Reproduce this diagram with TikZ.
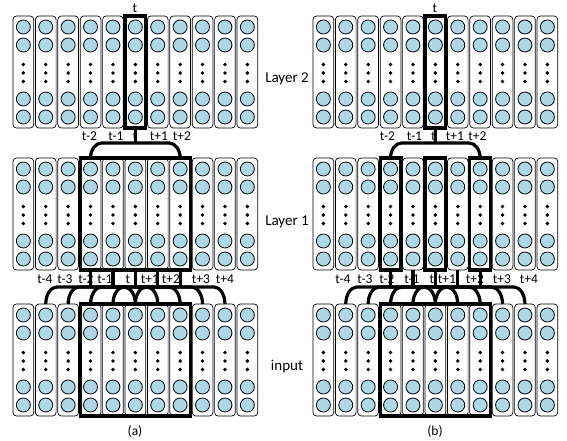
\documentclass[tikz,border=0pt]{standalone}
\usepackage{fontspec}
\setmainfont{Carlito}
\usetikzlibrary{calc,fit}
\definecolor{cellblue}{RGB}{173,216,230}
\newcommand\mybracket[3]{%
  \draw[conn] (#1.north) .. controls ($(#1.north)!0.55!(#1.north |- #3)$) and ($(#1.north |- #3)+(5,0)$) .. ($(#1.north |- #3)+(11,0)$)
    -- ($(#2.north |- #3)+(-11,0)$) .. controls ($(#2.north |- #3)+(-5,0)$) and ($(#2.north)!0.55!(#2.north |- #3)$) .. (#2.north);}
\begin{document}
\begin{tikzpicture}[x=1pt,y=-1pt,
  colbox/.style={draw, line width=0.7pt, rounded corners=3.5pt, fill=white, minimum width=20.7pt, minimum height=112pt, inner sep=0pt, outer sep=0pt},
  cell/.style={draw, line width=0.8pt, fill=cellblue},
  hl/.style={draw, line width=3.2pt, inner sep=0pt, outer sep=0pt},
  conn/.style={line width=3.2pt},
  lab/.style={font=\fontsize{13.5}{15}\selectfont, inner sep=0pt},
  biglab/.style={font=\fontsize{15}{17}\selectfont, inner sep=0pt, anchor=base}]
\useasboundingbox (0,0) rectangle (567,441);
% columns
\foreach \p/\xo in {A/13,B/313}{
  \foreach \l/\yt in {2/16,1/158,0/304}{
    \foreach \i in {0,...,10}{
      \node[colbox] (\p\l-\i) at ({\xo+22.4*\i+10.35},{\yt+56}) {};
      \foreach \dy in {11,29,83,101} \draw[cell] ($(\p\l-\i.north)+(0,\dy)$) circle (7pt);
      \foreach \dy in {48.5,57,65.5} \fill ($(\p\l-\i.north)+(0,\dy)$) circle (1.9pt);
    }
  }
}
% bar levels
\coordinate (barA2) at (0,143);
\coordinate (barB2) at (0,143);
\coordinate (barA1) at (0,287);
\coordinate (barB1) at (0,287);
% labels
\node[lab] (ta) at (135,8) {t};
\node[lab] (tb) at (435,8) {t};
\foreach \x/\t [count=\k] in {89.5/t-2,116/t-1,135/t,159/t+1,182/t+2}
  \node[lab] (la2-\k) at (\x,136) {\t};
\foreach \x/\t [count=\k] in {387.5/t-2,414.5/t-1,433.5/t,455/t+1,477.5/t+2}
  \node[lab] (lb2-\k) at (\x,136) {\t};
\foreach \x/\t [count=\k] in {45/t-4,65/t-3,86/t-2,105/t-1,128/t,150/t+1,171/t+2,201/t+3,225/t+4}
  \node[lab] (la1-\k) at (\x,279.5) {\t};
\foreach \x/\t [count=\k] in {343/t-4,365/t-3,387/t-2,412/t-1,432/t,447/t+1,475/t+2,502/t+3,529/t+4}
  \node[lab] (lb1-\k) at (\x,279.5) {\t};
\node[biglab] (L2) at (287,83) {Layer 2};
\node[biglab] (L1) at (287,225) {Layer 1};
\node[biglab] (L0) at (287,370) {input};
\node[lab] (capa) at (135,431) {(a)};
\node[lab] (capb) at (435,431) {(b)};
% highlight boxes
\node[hl, fit=(A2-5)] (hA2) {};
\node[hl, fit=(A1-3)(A1-7)] (hA1) {};
\node[hl, fit=(A0-3)(A0-7)] (hA0) {};
\node[hl, fit=(B2-5)] (hB2) {};
\node[hl, fit=(B1-3)] (hB1a) {};
\node[hl, fit=(B1-5)] (hB1b) {};
\node[hl, fit=(B1-7)] (hB1c) {};
\node[hl, fit=(B0-3)(B0-7)] (hB0) {};
% connectors layer 2 -> layer 1
\foreach \p in {A,B}{
  \draw[conn] (\p2-5.south) -- (\p2-5.south |- bar\p2);
  \mybracket{\p1-3}{\p1-7}{bar\p2}
}
% connectors layer 1 -> input
\foreach \p in {A,B}{
  \foreach \j [evaluate=\j as \jl using int(\j-2), evaluate=\j as \jr using int(\j+2)] in {3,...,7}{
    \draw[conn] (\p1-\j.south) -- (\p1-\j.south |- bar\p1);
    \mybracket{\p0-\jl}{\p0-\jr}{bar\p1}
  }
}
\end{tikzpicture}
\end{document}
